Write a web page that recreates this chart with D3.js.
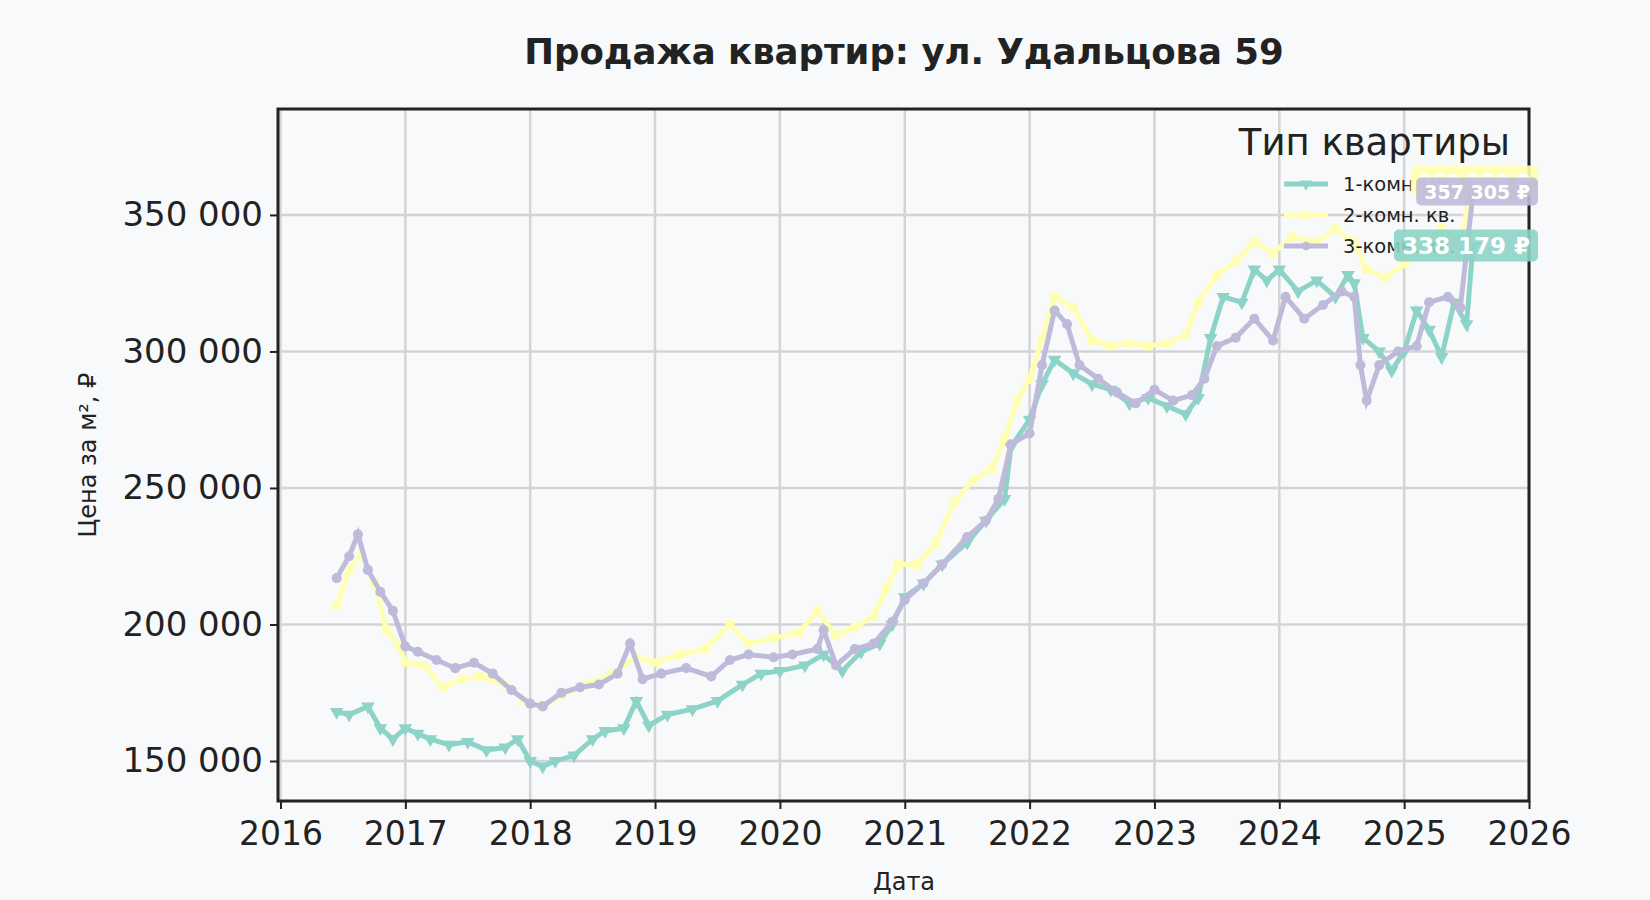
<!DOCTYPE html>
<html><head><meta charset="utf-8">
<script src="https://cdn.jsdelivr.net/npm/d3@7"></script>
<style>body{margin:0;background:#f8f9fb;font-family:"DejaVu Sans",sans-serif}</style>
</head><body><svg id="c" width="1650" height="900"></svg>
<script>
const seriesNames=["1-комн. кв.","2-комн. кв.","3-комн. кв."];
const colors=["#8dd3c7","#ffffb3","#bebada"];
const oneRoom=[[2016.45,168000],[2016.55,167000],[2016.7,170000],[2016.8,162000],[2016.9,158000],[2017.0,162000],[2017.1,160000],[2017.2,158000],[2017.35,156000],[2017.5,157000],[2017.65,154000],[2017.8,155000],[2017.9,158000],[2018.0,150000],[2018.1,148000],[2018.2,150000],[2018.35,152000],[2018.5,158000],[2018.6,161000],[2018.75,162000],[2018.85,172000],[2018.95,163000],[2019.1,167000],[2019.3,169000],[2019.5,172000],[2019.7,178000],[2019.85,182000],[2020.0,183000],[2020.2,185000],[2020.35,189000],[2020.5,183000],[2020.65,190000],[2020.8,193000],[2020.9,200000],[2021.0,210000],[2021.15,215000],[2021.3,222000],[2021.5,230000],[2021.65,238000],[2021.8,246000],[2021.85,265000],[2022.0,275000],[2022.1,288000],[2022.2,297000],[2022.35,292000],[2022.5,288000],[2022.65,286000],[2022.8,281000],[2022.95,283000],[2023.1,280000],[2023.25,277000],[2023.35,283000],[2023.45,305000],[2023.55,320000],[2023.7,318000],[2023.8,330000],[2023.9,326000],[2024.0,330000],[2024.15,322000],[2024.3,326000],[2024.45,320000],[2024.55,328000],[2024.6,325000],[2024.67,305000],[2024.8,300000],[2024.9,293000],[2025.0,300000],[2025.1,315000],[2025.2,308000],[2025.3,298000],[2025.4,318000],[2025.5,310000],[2025.55,338179]];
const twoRoom=[[2016.45,207000],[2016.55,220000],[2016.65,226000],[2016.75,215000],[2016.85,198000],[2016.95,192000],[2017.0,186000],[2017.15,185000],[2017.3,177000],[2017.45,180000],[2017.6,181000],[2017.8,178000],[2017.95,172000],[2018.1,170000],[2018.25,174000],[2018.45,178000],[2018.65,182000],[2018.85,188000],[2019.0,186000],[2019.2,189000],[2019.4,191000],[2019.6,200000],[2019.75,193000],[2019.95,195000],[2020.15,197000],[2020.3,205000],[2020.45,196000],[2020.6,199000],[2020.75,203000],[2020.85,213000],[2020.95,222000],[2021.1,222000],[2021.25,230000],[2021.4,245000],[2021.55,253000],[2021.7,257000],[2021.8,268000],[2021.9,282000],[2022.0,290000],[2022.1,305000],[2022.2,320000],[2022.35,316000],[2022.5,304000],[2022.65,302000],[2022.8,303000],[2022.95,302000],[2023.1,303000],[2023.25,306000],[2023.35,318000],[2023.5,328000],[2023.65,333000],[2023.8,340000],[2023.95,336000],[2024.1,342000],[2024.3,340000],[2024.45,345000],[2024.6,340000],[2024.7,330000],[2024.85,327000],[2025.0,332000],[2025.15,340000],[2025.3,345000],[2025.45,340000],[2025.55,362250]];
const threeRoom=[[2016.45,217000],[2016.55,225000],[2016.62,233000],[2016.7,220000],[2016.8,212000],[2016.9,205000],[2017.0,192000],[2017.1,190000],[2017.25,187000],[2017.4,184000],[2017.55,186000],[2017.7,182000],[2017.85,176000],[2018.0,171000],[2018.1,170000],[2018.25,175000],[2018.4,177000],[2018.55,178000],[2018.7,182000],[2018.8,193000],[2018.9,180000],[2019.05,182000],[2019.25,184000],[2019.45,181000],[2019.6,187000],[2019.75,189000],[2019.95,188000],[2020.1,189000],[2020.3,191000],[2020.35,198000],[2020.45,185000],[2020.6,191000],[2020.75,193000],[2020.9,201000],[2021.0,209000],[2021.15,215000],[2021.3,222000],[2021.5,232000],[2021.65,238000],[2021.75,246000],[2021.85,266000],[2022.0,270000],[2022.1,295000],[2022.2,315000],[2022.3,310000],[2022.4,295000],[2022.55,290000],[2022.7,285000],[2022.85,281000],[2023.0,286000],[2023.15,282000],[2023.3,284000],[2023.4,290000],[2023.5,302000],[2023.65,305000],[2023.8,312000],[2023.95,304000],[2024.05,320000],[2024.2,312000],[2024.35,317000],[2024.5,322000],[2024.6,320000],[2024.65,295000],[2024.7,282000],[2024.8,295000],[2024.95,300000],[2025.1,302000],[2025.2,318000],[2025.35,320000],[2025.45,316000],[2025.55,357305]];
const lastLabels=["338 179 ₽","362 250 ₽","357 305 ₽"];
const yTicks=[150000,200000,250000,300000,350000];
const xTicks=[2016,2017,2018,2019,2020,2021,2022,2023,2024,2025,2026];
const data=[oneRoom,twoRoom,threeRoom];

const svg=d3.select("#c");
const L=278,R=1529,T=109,B=801;
const x=d3.scaleLinear().domain([2015.98,2026.0]).range([L,R]);
const y=d3.scaleLinear().domain([135350,388800]).range([B,T]);
const fmt=v=>d3.format(",")(v).replace(/,/g," ");

svg.append("text").attr("x",904).attr("y",64).attr("text-anchor","middle").attr("font-size",35.5).attr("font-weight","bold").attr("fill","#222").text("Продажа квартир: ул. Удальцова 59");
const g=svg.append("g");
g.append("g").selectAll("line").data(xTicks).join("line").attr("x1",d=>x(d)).attr("x2",d=>x(d)).attr("y1",T).attr("y2",B).attr("stroke","#d4d4d6").attr("stroke-width",2.5);
g.append("g").selectAll("line").data(yTicks).join("line").attr("y1",d=>y(d)).attr("y2",d=>y(d)).attr("x1",L).attr("x2",R).attr("stroke","#d4d4d6").attr("stroke-width",2.5);

const line=d3.line().x(d=>x(d[0])).y(d=>y(d[1]));
const symbols=[d3.symbolTriangle,d3.symbolSquare,d3.symbolCircle];
data.forEach((s,i)=>{
  g.append("path").datum(s).attr("d",line).attr("fill","none").attr("stroke",colors[i]).attr("stroke-width",5);
  g.append("g").selectAll("path").data(s).join("path")
   .attr("transform",d=>`translate(${x(d[0])},${y(d[1])})`+(i==0?" rotate(180)":""))
   .attr("d",d3.symbol().type(symbols[i]).size(80)).attr("fill",colors[i]);
});
const ax=svg.append("g").attr("transform",`translate(0,${B})`).call(d3.axisBottom(x).tickValues(xTicks).tickFormat(d3.format("d")).tickSize(8));
const ay=svg.append("g").attr("transform",`translate(${L},0)`).call(d3.axisLeft(y).tickValues(yTicks).tickFormat(fmt).tickSize(8));
[ax,ay].forEach(a=>{a.selectAll("text").attr("fill","#222").attr("font-family","DejaVu Sans");a.selectAll("line").attr("stroke","#222").attr("stroke-width",2);a.select(".domain").remove();});
ax.selectAll("text").attr("font-size",33).attr("dy","1.0em");
ay.selectAll("text").attr("font-size",34).attr("dx",-4);
svg.append("rect").attr("x",L).attr("y",T).attr("width",R-L).attr("height",B-T).attr("fill","none").attr("stroke","#222").attr("stroke-width",3);
svg.append("text").attr("x",904).attr("y",890).attr("text-anchor","middle").attr("font-size",24).attr("fill","#222").text("Дата");
svg.append("text").attr("transform","translate(96,455) rotate(-90)").attr("text-anchor","middle").attr("font-size",24).attr("fill","#222").text("Цена за м², ₽");

// legend
svg.append("text").attr("x",1510).attr("y",155).attr("text-anchor","end").attr("font-size",37).attr("fill","#222").text("Тип квартиры");
seriesNames.forEach((n,i)=>{
  const yy=184+i*31;
  svg.append("line").attr("x1",1284).attr("x2",1328).attr("y1",yy).attr("y2",yy).attr("stroke",colors[i]).attr("stroke-width",5);
  svg.append("path").attr("transform",`translate(1306,${yy})`+(i==0?" rotate(180)":"")).attr("d",d3.symbol().type(symbols[i]).size(60)).attr("fill",colors[i]);
  svg.append("text").attr("x",1343).attr("y",yy+7).attr("font-size",19.5).attr("fill","#222").text(n);
});
// end labels
const lab=[{i:1,fs:20,yy:182},{i:2,fs:19,yy:193},{i:0,fs:23,yy:247}];
lab.forEach(o=>{
  const t=svg.append("text").attr("x",1530).attr("y",o.yy).attr("text-anchor","end").attr("font-size",o.fs).attr("font-weight","bold").attr("fill","#fff").attr("dominant-baseline","middle").text(lastLabels[o.i]);
  const bb=t.node().getBBox();
  svg.insert("rect",()=>t.node()).attr("x",bb.x-8).attr("y",bb.y-3).attr("width",bb.width+16).attr("height",bb.height+6).attr("rx",5).attr("fill",colors[o.i]).attr("opacity",0.9);
});
</script></body></html>
